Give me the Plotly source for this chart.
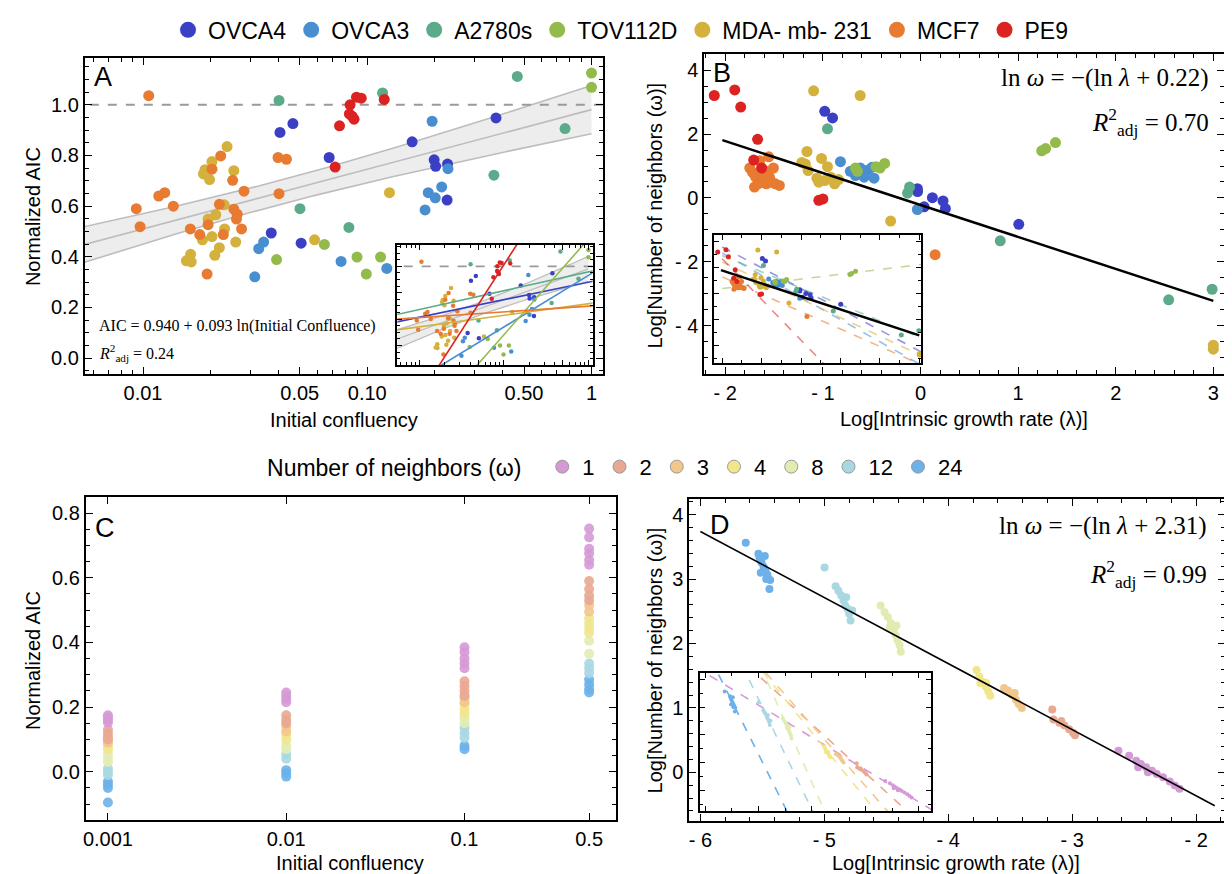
import numpy as np
import plotly.graph_objects as go

W, H = 1232, 874
SANS = "Liberation Sans"
SERIF = "Liberation Serif"

# ---------------- data ----------------
cell_lines = ["OVCA4", "OVCA3", "A2780s", "TOV112D", "MDA- mb- 231", "MCF7", "PE9"]
cell_colors = ["#3b3fc6", "#4a8ed2", "#5bab8a", "#93bb4c", "#d4b13c", "#e67b31", "#dd2222"]

# Panel A: initial confluency vs normalized AIC
a_ovca4_x = [0.0408, 0.0466, 0.0676, 0.0373, 0.0507, 0.1585, 0.1987, 0.2018, 0.228, 0.227, 0.375]
a_ovca4_y = [0.891, 0.926, 0.792, 0.494, 0.454, 0.854, 0.783, 0.757, 0.766, 0.624, 0.948]
a_ovca3_x = [0.1946, 0.229, 0.187, 0.201, 0.2147, 0.181, 0.0315, 0.0328, 0.0345, 0.0764, 0.1222]
a_ovca3_y = [0.935, 0.748, 0.653, 0.633, 0.676, 0.585, 0.321, 0.432, 0.458, 0.382, 0.354]
a_a2780_x = [0.0404, 0.117, 0.4667, 0.762, 0.367, 0.0828, 0.0501]
a_a2780_y = [1.017, 1.047, 1.112, 0.906, 0.722, 0.516, 0.590]
a_tov_x = [1.0, 1.0, 0.0394, 0.0644, 0.090, 0.099, 0.1146]
a_tov_y = [1.125, 1.069, 0.389, 0.449, 0.399, 0.332, 0.399]
a_mda_x = [0.0237, 0.0203, 0.0189, 0.0186, 0.0198, 0.0254, 0.023, 0.0211, 0.0195, 0.0231,
           0.0203, 0.0184, 0.0219, 0.0209, 0.0163, 0.0156, 0.0164, 0.0259, 0.0582, 0.1256]
a_mda_y = [0.835, 0.776, 0.744, 0.727, 0.705, 0.740, 0.605, 0.566, 0.549, 0.510,
           0.480, 0.467, 0.436, 0.406, 0.410, 0.384, 0.380, 0.458, 0.467, 0.653]
a_mcf7_x = [0.0106, 0.00933, 0.0097, 0.01175, 0.0125, 0.01365, 0.01625, 0.0179, 0.0193, 0.0203,
            0.0222, 0.0219, 0.0228, 0.0251, 0.0254, 0.0261, 0.0275, 0.0282, 0.040, 0.0436,
            0.0404, 0.0195, 0.0263]
a_mcf7_y = [1.036, 0.590, 0.519, 0.640, 0.653, 0.600, 0.510, 0.488, 0.332, 0.746,
            0.798, 0.607, 0.488, 0.702, 0.588, 0.549, 0.510, 0.659, 0.792, 0.785,
            0.649, 0.527, 0.568]
a_pe9_x = [0.0838, 0.0832, 0.0855, 0.0873, 0.0895, 0.094, 0.0752, 0.0719, 0.119]
a_pe9_y = [1.0, 0.964, 0.955, 0.943, 1.030, 1.026, 0.917, 0.754, 1.021]

# overall fit (AIC = a + b ln x) and confidence band (h0, centre ln x, k)
a_fit = [0.981, 0.1022]
a_band = [0.0475, -3.2, 0.000661]
# per-cell-line fits in inset A: [a, b]
a_line_fits = [[0.880, 0.0577], [0.931, 0.170], [0.958, 0.062], [1.208, 0.316],
               [0.716, 0.038], [0.698, 0.0189], [2.009, 0.433]]

# Panel B: ln(lambda) vs ln(omega)
b_ovca4_x = [-0.981, -0.901, -0.032, 0.122, 0.231, 0.255, 1.007, 0.037, -0.03]
b_ovca4_y = [2.711, 2.505, 0.289, 0.01, -0.093, -0.33, -0.825, -0.278, 0.2]
b_ovca3_x = [-0.820, -0.719, -0.618, -0.537, -0.476, -0.577, -0.666, -0.032, -0.496]
b_ovca3_y = [1.134, 0.835, 0.938, 0.876, 0.619, 0.649, 0.701, -0.361, 0.959]
b_a2780_x = [-0.953, -0.133, -0.112, 0.817, 2.543, 2.988]
b_a2780_y = [2.165, 0.155, 0.34, -1.34, -3.186, -2.856]
b_tov_x = [-0.666, -0.646, -0.456, -0.367, -0.415, 1.242, 1.282, 1.383]
b_tov_y = [0.938, 0.835, 0.979, 1.082, 0.938, 1.474, 1.546, 1.732]
b_mda_x = [-1.095, -0.618, -1.163, -1.014, -1.216, -1.151, -0.953, -1.062, -0.981, -0.880,
           -1.042, -0.840, -0.306, 3.0, 3.0, -1.18, -0.92]
b_mda_y = [3.351, 3.206, 1.454, 1.237, 1.113, 0.856, 0.979, 0.619, 0.546, 0.443,
           0.495, 0.577, -0.722, -4.608, -4.732, 1.06, 0.65]
b_mcf7_x = [-1.555, -1.749, -1.689, -1.701, -1.596, -1.547, -1.507, -1.580, -1.487, -1.446,
            -1.648, -1.527, -1.628, 0.150, -1.72, -1.66, -1.60]
b_mcf7_y = [1.289, 0.938, 0.649, 0.34, 0.856, 0.649, 0.938, 0.443, 0.443, 0.392,
            1.165, 0.495, 0.495, -1.773, 0.80, 0.45, 0.70]
b_pe9_x = [-2.113, -1.903, -1.842, -1.669, -1.709, -1.628, -1.042, -1.0]
b_pe9_y = [3.206, 3.381, 2.845, 1.835, 1.186, 0.938, -0.072, -0.03]

b_fit = [-1.0, -0.22]            # slope, intercept
b_fit_x = [-2.03, 3.0]
# per-cell-line fits in inset B: [slope, intercept]
b_line_fits = [[-1.6, 0.39], [-1.71, -0.29], [-1.26, 0.42], [0.367, 1.123],
               [-1.43, -0.42], [-1.34, -1.39], [-3.14, -3.59]]
b_line_x = [-2.0, 3.05]

# Panel C: initial confluency vs normalized AIC per number of neighbours
neighbors = ["1", "2", "3", "4", "8", "12", "24"]
w_colors = ["#d59ad6", "#e9a892", "#f3c78c", "#f1e68c", "#e2ecb2", "#a9d8e3", "#6cb1ea"]
c_conf = [0.001, 0.01, 0.1, 0.5]
c_w1 = [[0.175, 0.168, 0.16, 0.152], [0.245, 0.235, 0.225, 0.215],
        [0.385, 0.37, 0.35, 0.335, 0.32], [0.752, 0.725, 0.69, 0.675, 0.655, 0.64]]
c_w2 = [[0.13, 0.12, 0.11, 0.10], [0.175, 0.16, 0.15], [0.28, 0.265, 0.25, 0.235],
        [0.59, 0.565, 0.545, 0.53]]
c_w3 = [[0.10, 0.09], [0.14, 0.125], [0.23, 0.215], [0.515, 0.495]]
c_w4 = [[0.09, 0.08, 0.07], [0.115, 0.10], [0.21, 0.195, 0.18], [0.475, 0.46, 0.445, 0.43]]
c_w8 = [[0.055, 0.04, 0.03], [0.08, 0.07], [0.165, 0.15], [0.405, 0.365]]
c_w12 = [[0.01, 0.0, -0.01], [0.055, 0.04], [0.135, 0.12, 0.105], [0.335, 0.32, 0.305]]
c_w24 = [[-0.03, -0.04, -0.05, -0.095], [0.005, -0.005, -0.015], [0.08, 0.07],
         [0.285, 0.27, 0.255, 0.245]]

# Panel D: ln(lambda) vs ln(omega) per number of neighbours
d_w1_x = [-2.627, -2.541, -2.484, -2.446, -2.404, -2.356, -2.318, -2.267, -2.213, -2.172, -2.134, -2.468, -2.39]
d_w1_y = [0.333, 0.256, 0.179, 0.128, 0.077, 0.026, -0.026, -0.077, -0.144, -0.205, -0.256, 0.077, 0.0]
d_w2_x = [-3.161, -3.152, -3.104, -3.063, -3.025, -2.993, -2.977, -3.088]
d_w2_y = [0.974, 0.821, 0.769, 0.728, 0.667, 0.615, 0.574, 0.795]
d_w3_x = [-3.55, -3.518, -3.486, -3.454, -3.432, -3.407, -3.464]
d_w3_y = [1.308, 1.272, 1.205, 1.128, 1.062, 1.0, 1.231]
d_w4_x = [-3.772, -3.75, -3.725, -3.699, -3.677, -3.661, -3.741, -3.693]
d_w4_y = [1.59, 1.487, 1.41, 1.333, 1.256, 1.19, 1.385, 1.385]
d_w8_x = [-4.546, -4.514, -4.488, -4.463, -4.44, -4.425, -4.409, -4.393, -4.383, -4.472, -4.418]
d_w8_y = [2.59, 2.487, 2.41, 2.318, 2.205, 2.128, 2.051, 1.974, 1.872, 2.256, 2.28]
d_w12_x = [-4.998, -4.909, -4.886, -4.864, -4.845, -4.832, -4.813, -4.8, -4.788, -4.775, -4.823]
d_w12_y = [3.18, 2.887, 2.82, 2.744, 2.667, 2.59, 2.538, 2.46, 2.359, 2.513, 2.718]
d_w24_x = [-5.634, -5.532, -5.523, -5.507, -5.49, -5.475, -5.459, -5.469, -5.437, -5.443, -5.513, -5.48]
d_w24_y = [3.564, 3.395, 3.333, 3.256, 3.19, 3.128, 3.067, 3.0, 2.985, 2.846, 3.10, 3.36]

d_fit = [-1.026, -2.416]
d_fit_x = [-6.0, -1.85]
d_line_fits = [[-1.164, -2.746], [-1.757, -4.646], [-2.19, -6.41], [-2.38, -7.43],
               [-4.37, -17.2], [-3.99, -16.66], [-3.85, -17.95]]
d_line_x = [-6.2, -1.6]

a_xs = [a_ovca4_x, a_ovca3_x, a_a2780_x, a_tov_x, a_mda_x, a_mcf7_x, a_pe9_x]
a_ys = [a_ovca4_y, a_ovca3_y, a_a2780_y, a_tov_y, a_mda_y, a_mcf7_y, a_pe9_y]
b_xs = [b_ovca4_x, b_ovca3_x, b_a2780_x, b_tov_x, b_mda_x, b_mcf7_x, b_pe9_x]
b_ys = [b_ovca4_y, b_ovca3_y, b_a2780_y, b_tov_y, b_mda_y, b_mcf7_y, b_pe9_y]
c_ws = [c_w1, c_w2, c_w3, c_w4, c_w8, c_w12, c_w24]
d_xs = [d_w1_x, d_w2_x, d_w3_x, d_w4_x, d_w8_x, d_w12_x, d_w24_x]
d_ys = [d_w1_y, d_w2_y, d_w3_y, d_w4_y, d_w8_y, d_w12_y, d_w24_y]

# ---------------- helpers ----------------
def dom_x(l, r):
    return [l / W, r / W]

def dom_y(t, b):
    return [1 - b / H, 1 - t / H]

def axis(domain, rng, anchor, log=False, major=None, labels=None, minor_vals=None,
         minor_dtick=None, labels_on=True, ticklen=7, mlen=4, lw=2):
    d = dict(domain=domain, range=rng, anchor=anchor, type="log" if log else "linear",
             showline=True, linecolor="black", linewidth=lw, mirror="allticks",
             ticks="inside", ticklen=ticklen, tickwidth=1.3, tickcolor="black",
             showgrid=False, zeroline=False, showticklabels=labels_on,
             tickfont=dict(family=SANS, size=20, color="black"), fixedrange=True)
    if major is not None:
        d.update(tickmode="array", tickvals=major)
        if labels is not None:
            d["ticktext"] = labels
    if minor_vals is not None:
        d["minor"] = dict(tickmode="array", tickvals=minor_vals, ticks="inside", ticklen=mlen,
                          tickwidth=1, tickcolor="black", showgrid=False)
    elif minor_dtick is not None:
        d["minor"] = dict(dtick=minor_dtick, ticks="inside", ticklen=mlen,
                          tickwidth=1, tickcolor="black", showgrid=False)
    return d

fig = go.Figure()

# legend entries first (so they are listed in the reference order)
for name, c in zip(cell_lines, cell_colors):
    fig.add_trace(go.Scatter(x=[None], y=[None], mode="markers", name=name,
                             marker=dict(size=16, color=c), legend="legend"))
for name, c in zip(neighbors, w_colors):
    fig.add_trace(go.Scatter(x=[None], y=[None], mode="markers", name=name,
                             marker=dict(size=13, color=c, line=dict(color="#9a9a9a", width=1)),
                             legend="legend2"))

def add_band(xa, ya, width_scale=1.0):
    lx = np.linspace(np.log(0.005), 0.0, 200)
    xv = np.exp(lx)
    yc = a_fit[0] + a_fit[1] * lx
    hw = np.sqrt(a_band[0] ** 2 + a_band[2] * (lx - a_band[1]) ** 2)
    fig.add_trace(go.Scatter(x=xv, y=yc + hw, mode="lines", line=dict(color="#bdbdbd", width=1.6 * width_scale),
                             xaxis=xa, yaxis=ya, showlegend=False, hoverinfo="skip"))
    fig.add_trace(go.Scatter(x=xv, y=yc - hw, mode="lines", line=dict(color="#bdbdbd", width=1.6 * width_scale),
                             fill="tonexty", fillcolor="rgba(215,215,215,0.45)",
                             xaxis=xa, yaxis=ya, showlegend=False, hoverinfo="skip"))
    fig.add_trace(go.Scatter(x=xv, y=yc, mode="lines", line=dict(color="#bdbdbd", width=1.6 * width_scale),
                             xaxis=xa, yaxis=ya, showlegend=False, hoverinfo="skip"))
    fig.add_trace(go.Scatter(x=[0.004, 1.2], y=[1.0, 1.0], mode="lines",
                             line=dict(color="#9a9a9a", width=2 * width_scale, dash="dash"),
                             xaxis=xa, yaxis=ya, showlegend=False, hoverinfo="skip"))

# ---------------- Panel A ----------------
add_band("x", "y")
for xs, ys, c in zip(a_xs, a_ys, cell_colors):
    fig.add_trace(go.Scatter(x=xs, y=ys, mode="markers", marker=dict(size=11, color=c),
                             xaxis="x", yaxis="y", showlegend=False))

# ---------------- Panel B ----------------
for xs, ys, c in zip(b_xs, b_ys, cell_colors):
    fig.add_trace(go.Scatter(x=xs, y=ys, mode="markers", marker=dict(size=11, color=c),
                             xaxis="x2", yaxis="y2", showlegend=False))
bx = np.array(b_fit_x)
fig.add_trace(go.Scatter(x=bx, y=b_fit[0] * bx + b_fit[1], mode="lines",
                         line=dict(color="black", width=2.5), xaxis="x2", yaxis="y2", showlegend=False))

# ---------------- Panel C ----------------
for wv, c in zip(c_ws[::-1], w_colors[::-1]):
    xs, ys = [], []
    for conf, vals in zip(c_conf, wv):
        xs += [conf] * len(vals)
        ys += vals
    fig.add_trace(go.Scatter(x=xs, y=ys, mode="markers", marker=dict(size=10, color=c, opacity=0.9),
                             xaxis="x3", yaxis="y3", showlegend=False))

# ---------------- Panel D ----------------
for xs, ys, c in zip(d_xs, d_ys, w_colors):
    fig.add_trace(go.Scatter(x=xs, y=ys, mode="markers", marker=dict(size=8, color=c),
                             xaxis="x4", yaxis="y4", showlegend=False))
dx = np.array(d_fit_x)
fig.add_trace(go.Scatter(x=dx, y=d_fit[0] * dx + d_fit[1], mode="lines",
                         line=dict(color="black", width=1.6), xaxis="x4", yaxis="y4", showlegend=False))

# ---------------- Inset A ----------------
add_band("x5", "y5", 0.8)
for xs, ys, c in zip(a_xs, a_ys, cell_colors):
    fig.add_trace(go.Scatter(x=xs, y=ys, mode="markers", marker=dict(size=4.5, color=c),
                             xaxis="x5", yaxis="y5", showlegend=False))
lxi = np.linspace(np.log(0.005), np.log(1.2), 120)
for (a0, a1), c in zip(a_line_fits, cell_colors):
    fig.add_trace(go.Scatter(x=np.exp(lxi), y=a0 + a1 * lxi, mode="lines", line=dict(color=c, width=1.6),
                             xaxis="x5", yaxis="y5", showlegend=False, hoverinfo="skip"))

# ---------------- Inset B ----------------
bl = np.array(b_line_x)
for (m, b0), c in zip(b_line_fits, cell_colors):
    fig.add_trace(go.Scatter(x=bl, y=m * bl + b0, mode="lines", opacity=0.55,
                             line=dict(color=c, width=1.6, dash="dash"),
                             xaxis="x6", yaxis="y6", showlegend=False, hoverinfo="skip"))
for xs, ys, c in zip(b_xs, b_ys, cell_colors):
    fig.add_trace(go.Scatter(x=xs, y=ys, mode="markers", marker=dict(size=5, color=c),
                             xaxis="x6", yaxis="y6", showlegend=False))
fig.add_trace(go.Scatter(x=bx, y=b_fit[0] * bx + b_fit[1], mode="lines",
                         line=dict(color="black", width=2.5), xaxis="x6", yaxis="y6", showlegend=False))

# ---------------- Inset D ----------------
dl = np.array(d_line_x)
for (m, b0), c in zip(d_line_fits, w_colors):
    fig.add_trace(go.Scatter(x=dl, y=m * dl + b0, mode="lines",
                             line=dict(color=c, width=1.6, dash="dash"),
                             xaxis="x7", yaxis="y7", showlegend=False, hoverinfo="skip"))
for xs, ys, c in zip(d_xs, d_ys, w_colors):
    fig.add_trace(go.Scatter(x=xs, y=ys, mode="markers", marker=dict(size=4, color=c),
                             xaxis="x7", yaxis="y7", showlegend=False))

# ---------------- axes ----------------
a_minor = [0.006, 0.007, 0.008, 0.009, 0.02, 0.03, 0.04, 0.06, 0.07, 0.08, 0.09,
           0.2, 0.3, 0.4, 0.6, 0.7, 0.8, 0.9]
a_xr = [np.log10(0.0055), np.log10(1.12)]

layout_axes = dict(
    xaxis=axis(dom_x(74, 593), a_xr, "y", log=True, major=[0.01, 0.05, 0.1, 0.5, 1],
               labels=["0.01", "0.05", "0.10", "0.50", "1"], minor_vals=a_minor),
    yaxis=axis(dom_y(42.3, 361.7), [-0.064, 1.185], "x", major=[0, 0.2, 0.4, 0.6, 0.8, 1.0],
               labels=["0.0", "0.2", "0.4", "0.6", "0.8", "1.0"], minor_dtick=0.05),
    xaxis2=axis(dom_x(695, 1216), [-2.215, 3.11], "y2", major=[-2, -1, 0, 1, 2, 3],
                labels=["- 2", "- 1", "0", "1", "2", "3"], minor_dtick=0.2),
    yaxis2=axis(dom_y(38.5, 361.7), [-5.52, 4.5], "x2", major=[-4, -2, 0, 2, 4],
                labels=["- 4", "- 2", "0", "2", "4"], minor_dtick=0.5),
    xaxis3=axis(dom_x(75, 606), [-3.124, -0.153], "y3", log=True, major=c_conf,
                labels=["0.001", "0.01", "0.1", "0.5"]),
    yaxis3=axis(dom_y(485.7, 811.7), [-0.150, 0.849], "x3", major=[0, 0.2, 0.4, 0.6, 0.8],
                labels=["0.0", "0.2", "0.4", "0.6", "0.8"], minor_dtick=0.05),
    xaxis4=axis(dom_x(680, 1217), [-6.089, -1.767], "y4", major=[-6, -5, -4, -3, -2],
                labels=["- 6", "- 5", "- 4", "- 3", "- 2"], minor_dtick=0.2),
    yaxis4=axis(dom_y(487.3, 812.7), [-0.76, 4.246], "x4", major=[0, 1, 2, 3, 4],
                labels=["0", "1", "2", "3", "4"], minor_dtick=0.2),
    xaxis5=axis(dom_x(387.3, 583), a_xr, "y5", log=True, major=[0.01, 0.05, 0.1, 0.5, 1],
                minor_vals=a_minor, labels_on=False, ticklen=5, mlen=3),
    yaxis5=axis(dom_y(231, 352.3), [0.251, 1.163], "x5", major=[0.4, 0.6, 0.8, 1.0],
                minor_dtick=0.05, labels_on=False, ticklen=5, mlen=3),
    xaxis6=axis(dom_x(705, 912.5), [-2.2, 3.05], "y6", major=[-2, -1, 0, 1, 2, 3],
                minor_dtick=0.5, labels_on=False, ticklen=5, mlen=3),
    yaxis6=axis(dom_y(221.5, 350.5), [-5.37, 4.48], "x6", major=[-4, -2, 0, 2, 4],
                minor_dtick=1, labels_on=False, ticklen=5, mlen=3),
    xaxis7=axis(dom_x(691, 922.4), [-6.089, -1.767], "y7", major=[-6, -5, -4, -3, -2],
                minor_dtick=0.5, labels_on=False, ticklen=5, mlen=3),
    yaxis7=axis(dom_y(662.7, 802.7), [-0.76, 4.246], "x7", major=[0, 1, 2, 3, 4],
                minor_dtick=0.5, labels_on=False, ticklen=5, mlen=3),
)

# ---------------- annotations ----------------
def ann(text, xpx, ypx, size=20, family=SANS, angle=0, xanchor="center", yanchor="middle"):
    return dict(text=text, x=xpx / W, y=1 - ypx / H, xref="paper", yref="paper",
                showarrow=False, textangle=angle, xanchor=xanchor, yanchor=yanchor,
                font=dict(family=family, size=size, color="black"))

annotations = [
    ann("Initial confluency", 333.5, 408),
    ann("Normalized AIC", 22, 202, angle=-90),
    ann("Log[Intrinsic growth rate (λ)]", 955, 407),
    ann("Log[Number of neighbors (ω)]", 646, 201, angle=-90),
    ann("Initial confluency", 340, 855),
    ann("Normalized AIC", 22, 650, angle=-90),
    ann("Log[Intrinsic growth rate (λ)]", 947, 855),
    ann("Log[Number of neighbors (ω)]", 646, 650, angle=-90),
    ann("A", 92.5, 62, size=27),
    ann("B", 712.5, 58, size=27),
    ann("C", 94, 517, size=27),
    ann("D", 710.5, 514, size=27),
    ann("AIC = 0.940 + 0.093 ln(Initial Confluence)", 86, 313, size=16, family=SERIF, xanchor="left"),
    ann("<i>R</i><sup>2</sup><sub>adj</sub> = 0.24", 86, 340, size=16, family=SERIF, xanchor="left"),
    ann("ln <i>ω</i> = −(ln <i>λ</i> + 0.22)", 1203, 63, size=25, family=SERIF, xanchor="right"),
    ann("<i>R</i><sup>2</sup><sub>adj</sub> = 0.70", 1203, 107, size=25, family=SERIF, xanchor="right"),
    ann("ln <i>ω</i> = −(ln <i>λ</i> + 2.31)", 1201, 515, size=25, family=SERIF, xanchor="right"),
    ann("<i>R</i><sup>2</sup><sub>adj</sub> = 0.99", 1201, 563, size=25, family=SERIF, xanchor="right"),
]

fig.update_layout(
    width=W, height=H, margin=dict(l=0, r=0, t=0, b=0),
    paper_bgcolor="white", plot_bgcolor="white",
    font=dict(family=SANS, size=20, color="black"),
    annotations=annotations,
    legend=dict(orientation="h", x=611 / W, xanchor="center", y=1 - 14 / H, yanchor="middle",
                traceorder="normal",
                font=dict(family=SANS, size=23, color="black"), bgcolor="rgba(0,0,0,0)",
                itemclick=False, itemdoubleclick=False),
    legend2=dict(orientation="h", x=607 / W, xanchor="center", y=1 - 455 / H, yanchor="middle",
                 traceorder="normal",
                 title=dict(text="Number of neighbors (ω)  ", side="left",
                            font=dict(family=SANS, size=23, color="black")),
                 font=dict(family=SANS, size=22, color="black"), bgcolor="rgba(0,0,0,0)",
                 itemclick=False, itemdoubleclick=False),
    **layout_axes,
)

fig.write_html("out.html")
